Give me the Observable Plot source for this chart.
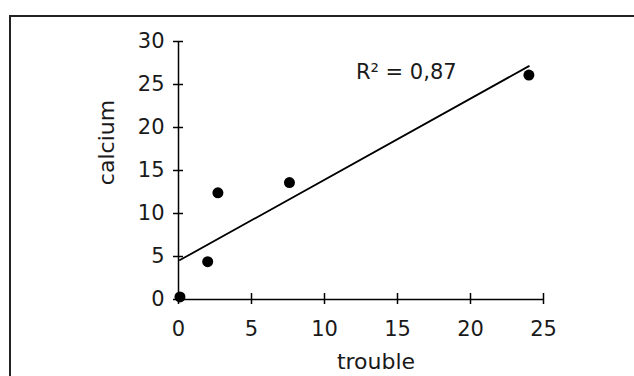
<!DOCTYPE html>
<html>
<head>
<meta charset="utf-8">
<script src="https://cdn.jsdelivr.net/npm/d3@7"></script>
<script src="https://cdn.jsdelivr.net/npm/@observablehq/plot@0.6"></script>
<style>
  html, body { margin: 0; padding: 0; background: #fff; overflow: hidden; }
  #wrap { position: relative; width: 634px; height: 376px; overflow: hidden; }
  #frame { position: absolute; left: 9px; top: 15px; width: 700px; height: 500px; border: 2px solid #222; box-sizing: border-box; }
  #chart { position: absolute; left: 0; top: 0; }
</style>
</head>
<body>
<div id="wrap"><div id="frame"></div><div id="chart"></div></div>
<script>
const trouble = [0.1, 2.0, 2.7, 7.6, 24.0];
const calcium = [0.3, 4.4, 12.4, 13.6, 26.1];
const xTicks = [0, 5, 10, 15, 20, 25];
const yTicks = [0, 5, 10, 15, 20, 25, 30];
const r2Label = ["R\u00B2 = 0,87"];
const r2Pos = [{x: 15.6, y: 26.4}];

const data = trouble.map((t, i) => ({trouble: t, calcium: calcium[i]}));
const font = "'DejaVu Sans', Verdana, sans-serif";

const chart = Plot.plot({
  width: 634,
  height: 376,
  marginLeft: 178,
  marginRight: 91,
  marginTop: 41,
  marginBottom: 77,
  style: {fontFamily: font, fontSize: "21px", color: "#1a1a1a", background: "transparent"},
  x: {domain: [0, 25]},
  y: {domain: [0, 30]},
  marks: [
    Plot.ruleX([0], {stroke: "#000", strokeWidth: 1.5}),
    Plot.ruleY([0], {stroke: "#000", strokeWidth: 1.5}),
    Plot.axisX(xTicks, {anchor: "bottom", tickSize: 11, dy: -6, text: null, label: null, stroke: "#000", strokeWidth: 1.5}),
    Plot.axisX(xTicks, {anchor: "bottom", tickSize: 0, tickPadding: 22, label: null, fill: "#1a1a1a", fontSize: 21}),
    Plot.axisY(yTicks, {anchor: "left", tickSize: 10, dx: 5, text: null, label: null, stroke: "#000", strokeWidth: 1.5}),
    Plot.axisY(yTicks, {anchor: "left", tickSize: 0, tickPadding: 14, label: null, fill: "#1a1a1a", fontSize: 21}),
    Plot.linearRegressionY(data, {x: "trouble", y: "calcium", ci: 0, stroke: "#000", strokeWidth: 1.8}),
    Plot.dot(data, {x: "trouble", y: "calcium", r: 5.5, fill: "#000", stroke: null}),
    Plot.text(r2Pos, {x: "x", y: "y", text: () => r2Label[0], fontSize: 21, fill: "#1a1a1a"}),
    Plot.text(["trouble"], {frameAnchor: "bottom", dx: 15, dy: 69, text: d => d, fontSize: 22, fill: "#1a1a1a"}),
    Plot.text(["calcium"], {frameAnchor: "left", textAnchor: "middle", dx: -72, dy: -28, rotate: -90, text: d => d, fontSize: 22, fill: "#1a1a1a"})
  ]
});
document.getElementById("chart").appendChild(chart);
</script>
</body>
</html>
